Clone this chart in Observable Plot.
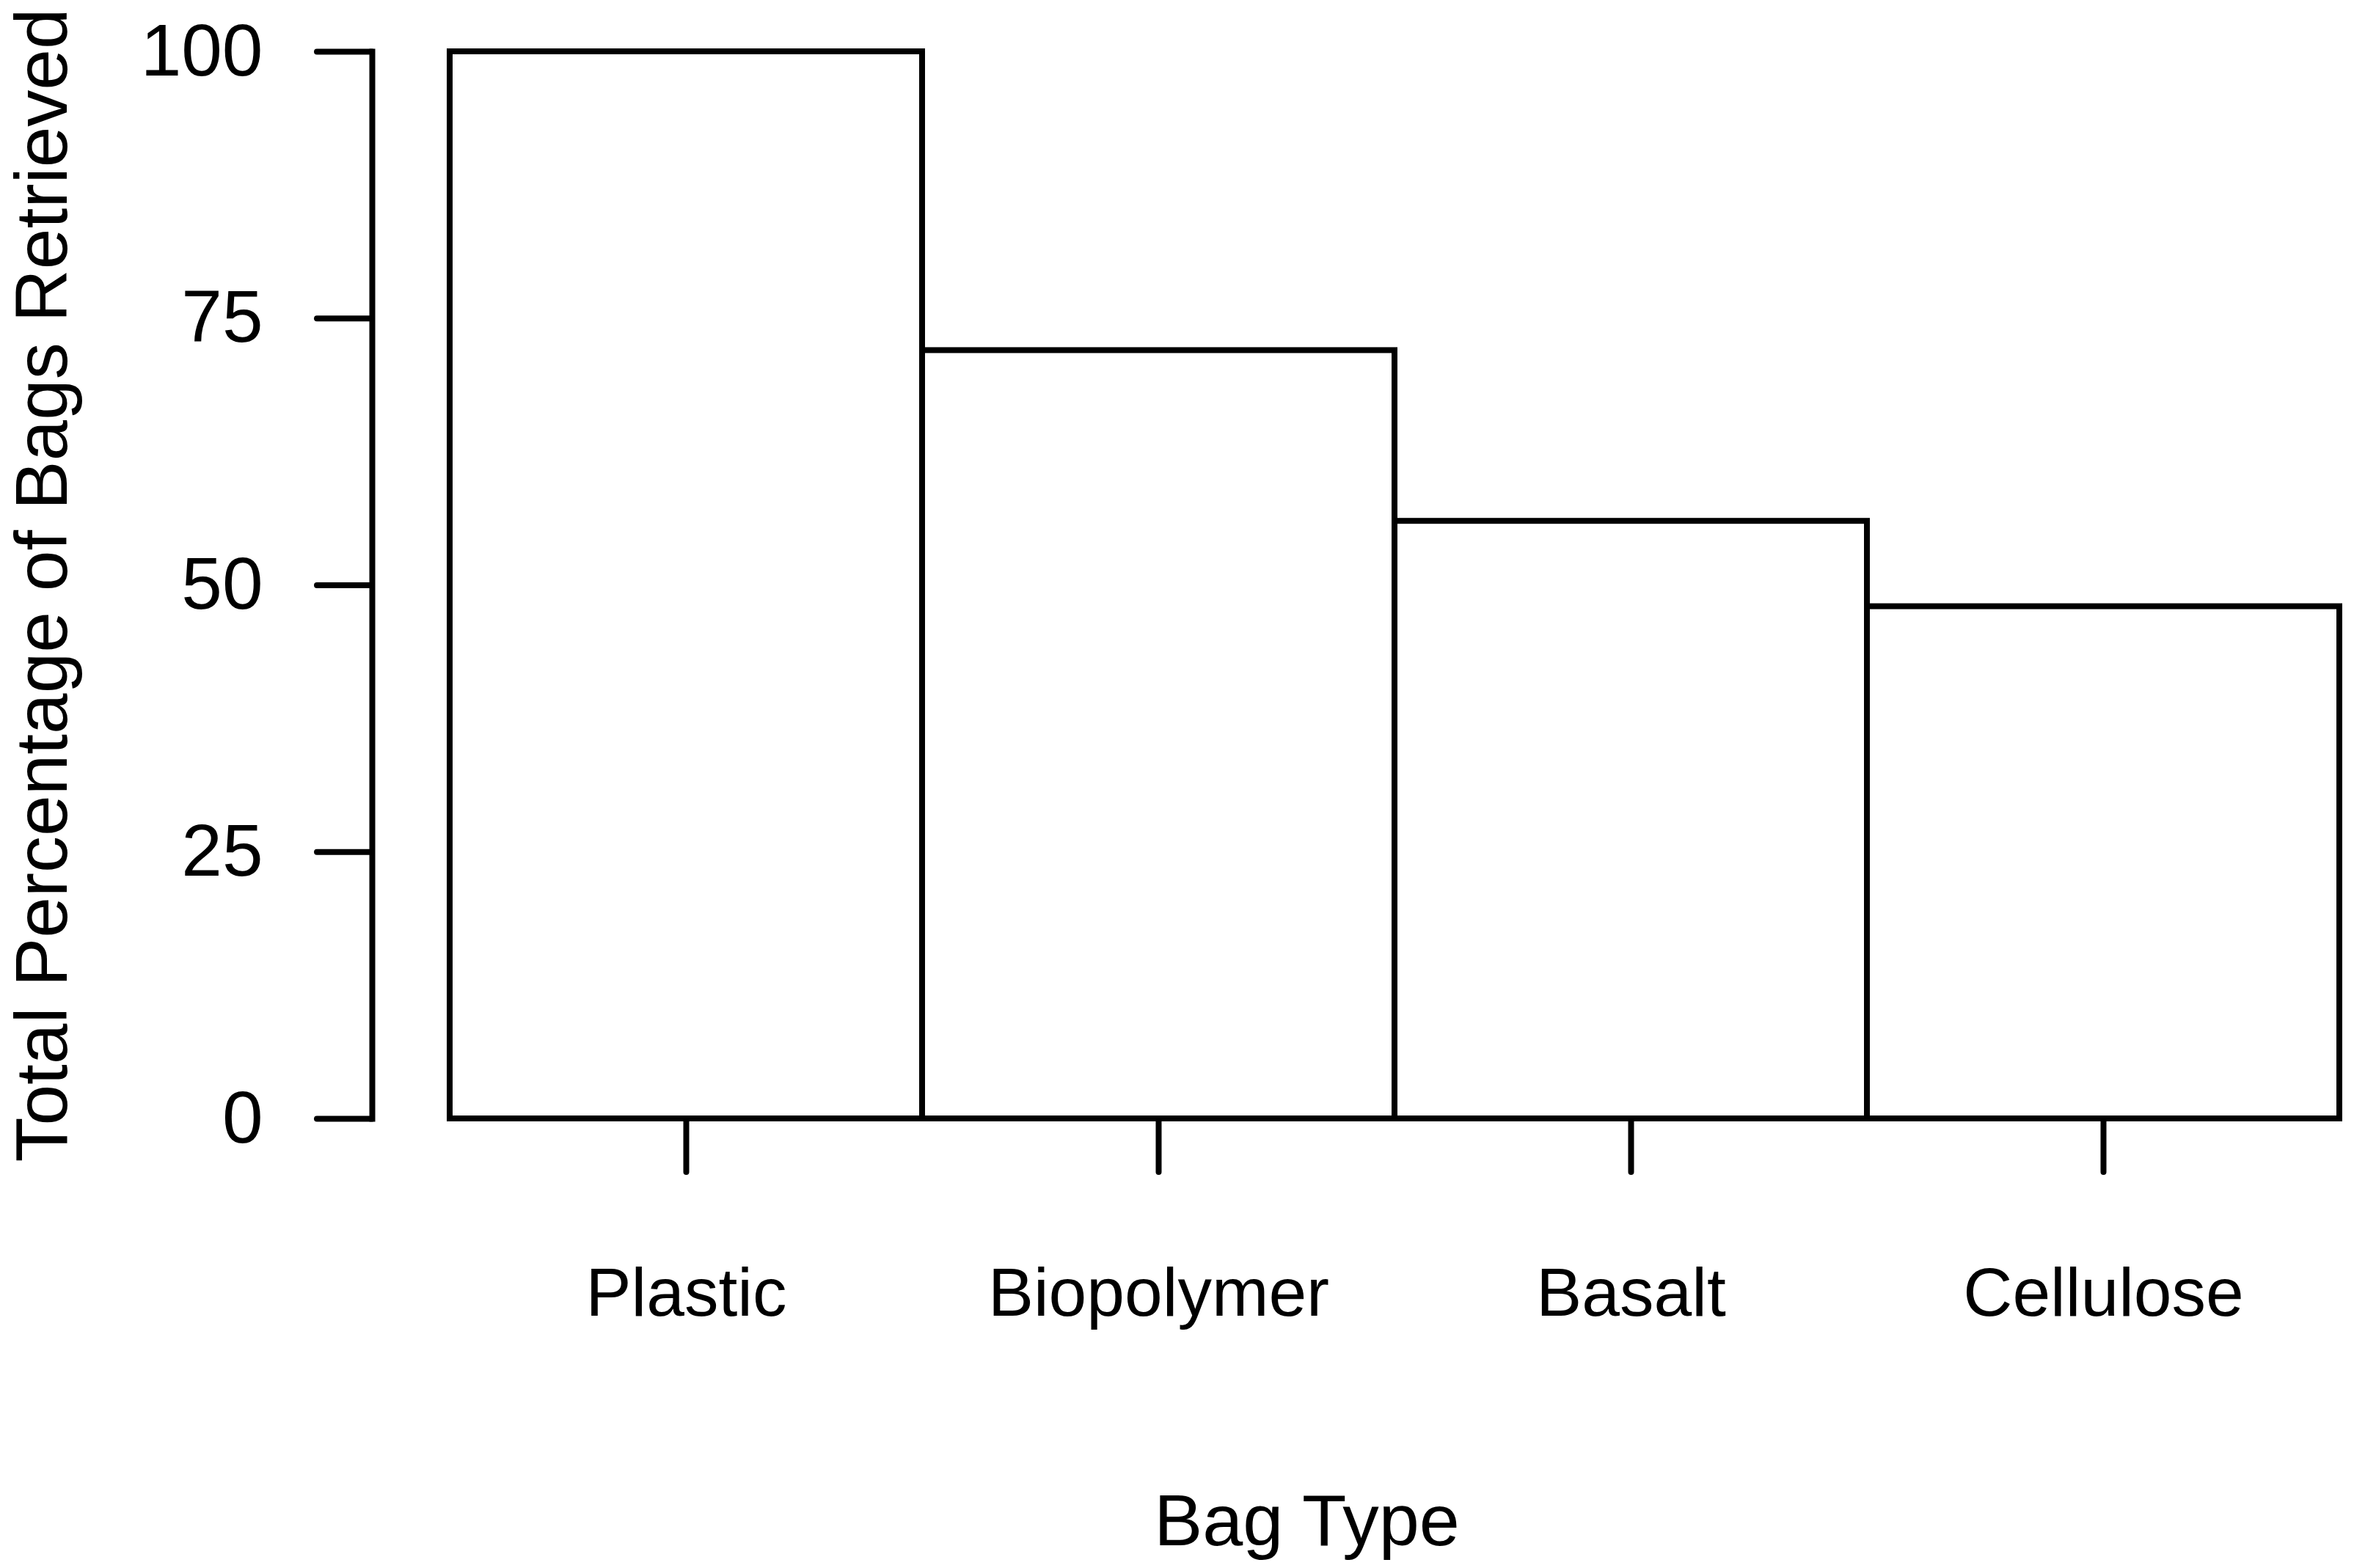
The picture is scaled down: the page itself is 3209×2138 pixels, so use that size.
<!DOCTYPE html>
<html>
<head>
<meta charset="utf-8">
<script src="https://cdn.jsdelivr.net/npm/d3@7"></script>
<script src="https://cdn.jsdelivr.net/npm/@observablehq/plot@0.6"></script>
<style>
  html, body { margin: 0; padding: 0; background: #fff; }
  #chart svg { display: block; }
</style>
</head>
<body>
<div id="chart"></div>
<script>
const bagTypes = ["Plastic", "Biopolymer", "Basalt", "Cellulose"];
const pctRetrieved = [100, 72, 56, 48];
const yTicks = [0, 25, 50, 75, 100];
const xTitle = "Bag Type";
const yTitle = "Total Percentage of Bags Retrieved";

const data = bagTypes.map((t, i) => ({type: t, pct: pctRetrieved[i]}));

const FONT = "'Liberation Sans', Arial, sans-serif";
const SW = 8;

const chart = Plot.plot({
  width: 3209,
  height: 2138,
  marginLeft: 507,
  marginRight: 20,
  marginTop: 70,
  marginBottom: 613,
  style: {fontFamily: FONT, background: "#fff", color: "#000"},
  x: {domain: bagTypes, paddingInner: 0, paddingOuter: 0.08, align: 1, axis: null},
  y: {domain: [0, 100], axis: null},
  marks: [
    Plot.barY(data, {x: "type", y: "pct", fill: "white", stroke: "black", strokeWidth: SW, inset: 0}),
    Plot.frame({anchor: "left", stroke: "black", strokeWidth: SW}),
    Plot.axisY({
      ticks: yTicks, tickSize: 75, tickPadding: 74, fontSize: 100,
      strokeWidth: SW, strokeLinecap: "round", label: null, tickFormat: d => String(d)
    }),
    Plot.axisX({
      tickSize: 73, tickPadding: 129, fontSize: 93,
      strokeWidth: SW, strokeLinecap: "round", label: null
    }),
    Plot.text([yTitle], {
      text: d => d, frameAnchor: "left", rotate: -90, dx: -449,
      textAnchor: "middle", lineAnchor: "middle", fontSize: 100, fill: "black"
    }),
    Plot.text([xTitle], {
      text: d => d, frameAnchor: "bottom", dx: -67, dy: 511,
      textAnchor: "middle", lineAnchor: "top", fontSize: 99, fill: "black"
    })
  ]
});
document.getElementById("chart").appendChild(chart);
</script>
</body>
</html>
